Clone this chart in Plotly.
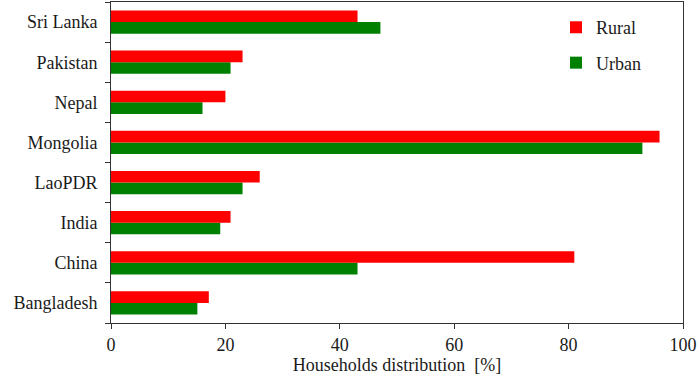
import plotly.graph_objects as go

countries = ["Bangladesh", "China", "India", "LaoPDR", "Mongolia", "Nepal", "Pakistan", "Sri Lanka"]
rural = [17.1, 81.0, 20.9, 26.0, 95.9, 20.0, 23.0, 43.1]
urban = [15.1, 43.1, 19.1, 23.0, 92.9, 16.0, 20.9, 47.1]
x_ticks = [0, 20, 40, 60, 80, 100]

serif = "Liberation Serif"


def main():
    fig = go.Figure(data=[
        go.Bar(y=countries, x=urban, name="Urban", orientation="h", legendgroup="u",
               legendrank=2, marker=dict(color="#008000", line=dict(width=0))),
        go.Bar(y=countries, x=rural, name="Rural", orientation="h", legendgroup="r",
               legendrank=1, marker=dict(color="#ff0000", line=dict(width=0))),
    ])
    fig.update_layout(
        width=699, height=377,
        margin=dict(l=111, r=16, t=2, b=54),
        barmode="group", bargap=0.42, bargroupgap=0,
        plot_bgcolor="white", paper_bgcolor="white",
        font=dict(family=serif, size=18, color="#1a1a1a"),
        legend=dict(x=0.778, y=0.978, xanchor="left", yanchor="top",
                    traceorder="grouped", bgcolor="rgba(0,0,0,0)",
                    font=dict(size=18), itemwidth=30, tracegroupgap=9),
        xaxis=dict(range=[0, 100], tickvals=x_ticks, ticks="outside", ticklen=5,
                   tickcolor="#333", linecolor="#333", linewidth=1, mirror=True,
                   showgrid=False, zeroline=False,
                   title=dict(text="Households distribution  [%]", standoff=2,
                              font=dict(size=18))),
        yaxis=dict(ticks="outside", tickson="boundaries", ticklen=5,
                   tickcolor="#333", linecolor="#333", linewidth=1, mirror=True,
                   showgrid=False, ticksuffix="  "),
    )
    fig.write_html("out.html", config={"displayModeBar": False},
                   post_script="document.body.style.margin='0';")


if __name__ == '__main__':
    main()
